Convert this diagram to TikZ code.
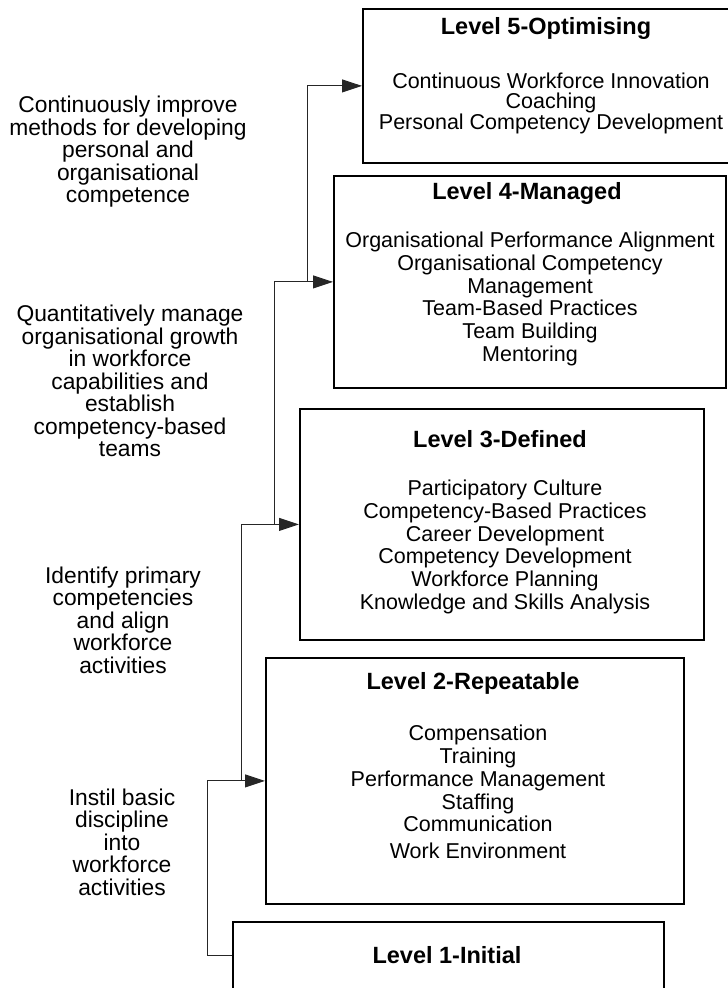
\documentclass[tikz,border=0pt]{standalone}
\usepackage{fontspec}
\setmainfont{Liberation Sans}
\usetikzlibrary{arrows.meta}
\begin{document}
\begin{tikzpicture}[x=1pt,y=-1pt,
  lvl/.style={draw,line width=1.8pt,anchor=north west,inner sep=0pt},
  ttl/.style={font=\fontsize{23.5}{24}\selectfont\bfseries,inner sep=0pt},
  itm/.style={font=\fontsize{21.5}{22.7}\selectfont,align=center,inner sep=0pt},
  aim/.style={font=\fontsize{22.8}{22.5}\selectfont,align=center,inner sep=0pt},
  conn/.style={line width=1pt,draw=black!85},
  tip/.style={-{Triangle[length=20pt,width=13pt]}}]
\clip (0,0) rectangle (728,988);
% level boxes
\node[lvl,minimum width=380pt,minimum height=154pt] (L5) at (362,8) {};
\node[lvl,minimum width=392pt,minimum height=212pt] (L4) at (333,175) {};
\node[lvl,minimum width=404pt,minimum height=231pt] (L3) at (299,408) {};
\node[lvl,minimum width=418pt,minimum height=246pt] (L2) at (265,657) {};
\node[lvl,minimum width=431pt,minimum height=100pt] (L1) at (232,921) {};
% titles
\node[ttl] (t5) at (546,28) {Level 5-Optimising};
\node[ttl] (t4) at (527,193) {Level 4-Managed};
\node[ttl] (t3) at (500,439) {Level 3-Defined};
\node[ttl] (t2) at (473,683) {Level 2-Repeatable};
\node[ttl] (t1) at (447,955) {Level 1-Initial};
% key process areas
\node[itm,font=\fontsize{21.5}{20.5}\selectfont] (k5) at (551,103) {Continuous Workforce Innovation\\Coaching\\Personal Competency Development};
\node[itm] (k4) at (530,299) {Organisational Performance Alignment\\Organisational Competency\\Management\\Team-Based Practices\\Team Building\\Mentoring};
\node[itm] (k3) at (505,547) {Participatory Culture\\Competency-Based Practices\\Career Development\\Competency Development\\Workforce Planning\\Knowledge and Skills Analysis};
\node[itm] (k2) at (478,792) {Compensation\\Training\\Performance Management\\Staffing\\Communication\\[4pt]Work Environment};
% goals
\node[aim] (g4) at (128,152) {Continuously improve\\methods for developing\\personal and\\organisational\\competence};
\node[aim] (g3) at (130,381) {Quantitatively manage\\organisational growth\\in workforce\\capabilities and\\establish\\competency-based\\teams};
\node[aim] (g2) at (123,620) {Identify primary\\competencies\\and align\\workforce\\activities};
\node[aim] (g1) at (122,842) {Instil basic\\discipline\\into\\workforce\\activities};
% connectors
\path
(207,955) coordinate (s1)
(241,0) coordinate (s2)
(274,0) coordinate (s3)
(307,0) coordinate (s4)
;
\draw[conn,tip] (s1 -| L1.west) -- (s1) |- (L2.west);
\foreach \x/\a/\b in {s2/L2/L3,s3/L3/L4,s4/L4/L5}
\draw[conn,tip] (\x |- \a.west) |- (\b.west);
\end{tikzpicture}
\end{document}
